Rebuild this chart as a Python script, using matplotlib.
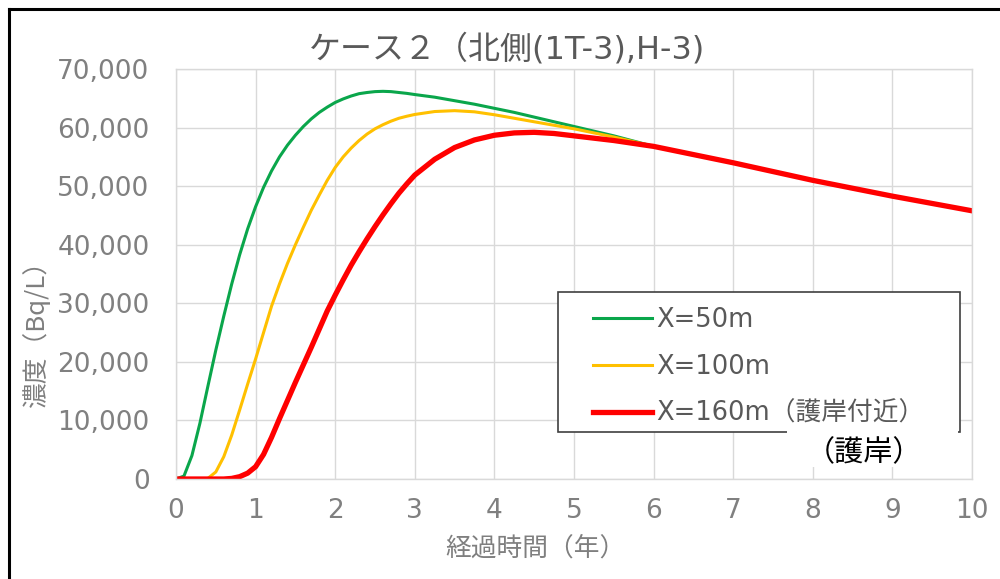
import matplotlib
matplotlib.use('Agg')
import matplotlib.pyplot as plt
from matplotlib.patches import Rectangle
from matplotlib.lines import Line2D
from matplotlib.ticker import FuncFormatter

plt.rcParams['font.family'] = ['Noto Sans CJK JP', 'DejaVu Sans']

# 経過時間（年）
t = [0.0, 0.1, 0.2, 0.3, 0.4, 0.5, 0.6, 0.7, 0.8, 0.9,
     1.0, 1.1, 1.2, 1.3, 1.4, 1.5, 1.6, 1.7, 1.8, 1.9,
     2.0, 2.1, 2.2, 2.3, 2.4, 2.5, 2.6, 2.7, 2.8, 2.9,
     3.0, 3.25, 3.5, 3.75, 4.0, 4.25, 4.5, 4.75, 5.0, 5.5,
     6, 7, 8, 9, 10]

# 濃度（Bq/L）
x50 = [0, 500, 4000, 9500, 15800, 22000, 27800, 33300, 38300, 42700,
       46500, 49800, 52600, 55000, 57000, 58700, 60200, 61500, 62600, 63500,
       64300, 64900, 65400, 65800, 66000, 66150, 66200, 66150, 66000, 65850,
       65650, 65200, 64600, 64000, 63300, 62600, 61800, 61000, 60200, 58600,
       56800, 54000, 51000, 48300, 45800]
x100 = [0, 0, 0, 0, 100, 1200, 3800, 7500, 11800, 16200,
        20500, 25000, 29500, 33300, 36800, 40000, 43000, 45900, 48500, 51000,
        53200, 55000, 56500, 57800, 58900, 59800, 60500, 61100, 61600, 61950,
        62250, 62750, 62900, 62700, 62200, 61600, 61000, 60400, 59800, 58400,
        56800, 54000, 51000, 48300, 45800]
x160 = [0, 0, 0, 0, 0, 0, 0, 100, 400, 1000,
        2100, 4200, 7100, 10300, 13400, 16500, 19500, 22500, 25600, 28700,
        31400, 34000, 36500, 38800, 41000, 43100, 45100, 47000, 48800, 50400,
        51900, 54600, 56600, 57900, 58700, 59100, 59200, 59000, 58600, 57800,
        56800, 54000, 51000, 48300, 45800]

labels = ['X=50m', 'X=100m', 'X=160m（護岸付近）']
colors = ['#0aa64b', '#ffc000', '#ff0000']

fig = plt.figure(figsize=(10, 5.79), dpi=100)
ax = fig.add_axes([0.176, 0.1727, 0.796, 0.708])

ax.plot(t, x50, color=colors[0], lw=2.2, label=labels[0])
ax.plot(t, x100, color=colors[1], lw=2.2, label=labels[1])
ax.plot(t, x160, color=colors[2], lw=3.8, label=labels[2])

ax.set_xlim(0, 10)
ax.set_ylim(0, 70000)
ax.set_xticks(range(0, 11))
ax.set_yticks(range(0, 70001, 10000))
ax.yaxis.set_major_formatter(FuncFormatter(lambda v, p: f'{int(v):,}'))
ax.grid(True, color='#d9d9d9', lw=1)
ax.set_axisbelow(True)
for s in ax.spines.values():
    s.set_color('#d9d9d9')
    s.set_linewidth(1)
ax.tick_params(length=0, labelsize=19, labelcolor='#808080')
ax.tick_params(axis='x', pad=14)
ax.tick_params(axis='y', pad=19)
for lab in ax.get_xticklabels() + ax.get_yticklabels():
    lab.set_family('DejaVu Sans')

# タイトルと軸ラベル
fig.text(0.507, 0.9136, 'ケース２（北側(1T-3),H-3)', ha='center', va='center',
         fontsize=23, color='#595959', family=['DejaVu Sans', 'Noto Sans CJK JP'])
fig.text(0.535, 1 - 549 / 579, '経過時間（年）', ha='center', va='center',
         fontsize=18.5, color='#7f7f7f')
fig.text(0.036, 1 - 327 / 579, '濃度（Bq/L）', ha='center', va='center',
         rotation=90, fontsize=18.5, color='#7f7f7f')

# 凡例
fig.add_artist(Rectangle((0.558, 0.2539), 0.402, 0.2418, transform=fig.transFigure,
                         facecolor='white', edgecolor='#404040', lw=1.2, zorder=4))
h, l = ax.get_legend_handles_labels()
leg = fig.legend(h, l, loc='upper left', bbox_to_anchor=(0.593, 0.4698),
                 frameon=False, fontsize=18.5, handlelength=2.3,
                 handletextpad=0.15, labelspacing=0.81, borderpad=0,
                 borderaxespad=0)
leg.set_zorder(5)
for txt in leg.get_texts():
    txt.set_color('#595959')
    txt.set_family(['DejaVu Sans', 'Noto Sans CJK JP'])

fig.add_artist(Rectangle((0.787, 0.1934), 0.171, 0.0639, transform=fig.transFigure,
                         facecolor='white', edgecolor='none', zorder=6))
fig.text(0.864, 1 - 453 / 579, '（護岸）', ha='center', va='center',
         fontsize=21, color='black', zorder=7)

# 外枠
fig.add_artist(Line2D([0.0085, 0.0085], [0, 0.9845], color='black', lw=2.2,
                      transform=fig.transFigure))
fig.add_artist(Line2D([0.0085, 1.0], [0.9845, 0.9845], color='black', lw=2.2,
                      transform=fig.transFigure))

fig.savefig('out.png', dpi=100)
